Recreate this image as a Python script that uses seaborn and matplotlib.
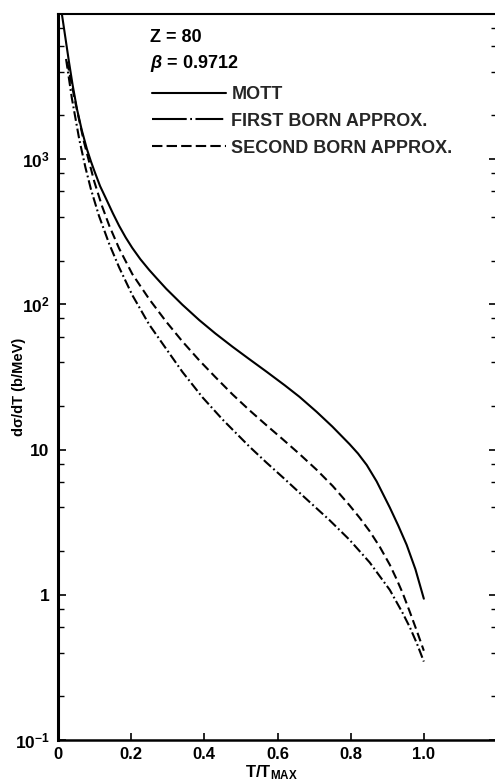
import matplotlib
matplotlib.use("Agg")
import numpy as np
import pandas as pd
import seaborn as sns
import matplotlib.pyplot as plt
from matplotlib.lines import Line2D
from matplotlib.ticker import FixedLocator, FixedFormatter, NullFormatter

# Electron-electron scattering cross section vs. fractional energy transfer
mott_t = [0.010, 0.020, 0.030, 0.040, 0.052, 0.065, 0.079, 0.090, 0.100, 0.115,
          0.132, 0.150, 0.167, 0.185, 0.203, 0.225, 0.249, 0.270, 0.296, 0.340,
          0.386, 0.430, 0.477, 0.520, 0.570, 0.620, 0.660, 0.707, 0.750, 0.797,
          0.820, 0.844, 0.871, 0.907, 0.930, 0.953, 0.977, 1.000]
mott_v = [10230, 6920, 4680, 3240, 2210, 1585, 1175, 966, 822, 653,
          530, 424, 348, 289, 245, 205, 173, 151, 128, 99.5,
          78.0, 63.1, 51.1, 42.5, 34.4, 27.7, 23.1, 18.2, 14.4, 10.9,
          9.40, 7.83, 6.04, 3.99, 3.00, 2.21, 1.50, 0.94]

born1_t = [0.022, 0.038, 0.058, 0.075, 0.090, 0.112, 0.140, 0.167, 0.203, 0.249,
           0.296, 0.340, 0.395, 0.450, 0.523, 0.570, 0.614, 0.668, 0.742, 0.797,
           0.852, 0.907, 0.942, 0.962, 0.981, 1.000]
born1_v = [4900, 2620, 1374, 877, 621, 407, 261, 180, 116, 72.8,
           49.3, 34.3, 22.9, 16.1, 10.5, 8.13, 6.46, 4.84, 3.27, 2.39,
           1.67, 1.08, 0.750, 0.596, 0.462, 0.347]

born2_t = [0.025, 0.049, 0.071, 0.099, 0.120, 0.140, 0.167, 0.203, 0.249, 0.296,
           0.340, 0.386, 0.430, 0.477, 0.523, 0.570, 0.614, 0.660, 0.707, 0.751,
           0.797, 0.825, 0.852, 0.880, 0.907, 0.925, 0.942, 0.962, 0.981, 1.000]
born2_v = [4700, 2355, 1315, 703, 478, 349, 243, 162, 109, 75.9,
           55.6, 41.2, 31.6, 24.0, 18.7, 14.7, 11.8, 9.33, 7.26, 5.61,
           4.13, 3.38, 2.74, 2.13, 1.61, 1.29, 1.03, 0.759, 0.562, 0.412]

labels = ["MOTT", "FIRST BORN APPROX.", "SECOND BORN APPROX."]

x_ticks = [0, 0.2, 0.4, 0.6, 0.8, 1.0]
x_ticklabels = ["0", "0.2", "0.4", "0.6", "0.8", "1.0"]
y_ticks = [0.1, 1, 10, 100, 1000, 10000]
y_ticklabels = ["10$^{-1}$", "1", "10", "10$^{2}$", "10$^{3}$", ""]

sns.set_theme(style="white")
plt.rcParams["font.family"] = ["Liberation Sans", "DejaVu Sans"]
plt.rcParams["font.weight"] = "bold"
plt.rcParams["mathtext.fontset"] = "custom"
plt.rcParams["mathtext.rm"] = "Liberation Sans:bold"
plt.rcParams["mathtext.it"] = "Liberation Sans:bold:italic"
plt.rcParams["mathtext.bf"] = "Liberation Sans:bold"
plt.rcParams["mathtext.default"] = "rm"
plt.rcParams["lines.scale_dashes"] = False

df = pd.concat([
    pd.DataFrame({"t": mott_t, "dsdt": mott_v, "curve": labels[0]}),
    pd.DataFrame({"t": born1_t, "dsdt": born1_v, "curve": labels[1]}),
    pd.DataFrame({"t": born2_t, "dsdt": born2_v, "curve": labels[2]}),
], ignore_index=True)

curve_dashes = {labels[0]: "", labels[1]: (7, 2.2, 1.3, 2.2), labels[2]: (6.5, 3.2)}

fig = plt.figure(figsize=(4.95, 7.84), dpi=100)
ax = fig.add_axes([58 / 495, 44 / 784, 439 / 495, 726 / 784])

sns.lineplot(data=df, x="t", y="dsdt", style="curve", dashes=curve_dashes,
             color="black", linewidth=1.5, sort=False, estimator=None,
             legend=False, ax=ax)

ax.set_yscale("log")
ax.set_xlim(0, 1.2)
ax.set_ylim(0.1, 1e4)

ax.xaxis.set_major_locator(FixedLocator(x_ticks))
ax.xaxis.set_major_formatter(FixedFormatter(x_ticklabels))
ax.yaxis.set_major_locator(FixedLocator(y_ticks))
ax.yaxis.set_major_formatter(FixedFormatter(y_ticklabels))
minor = [m * 10.0 ** e for e in range(-1, 4) for m in (2, 4, 6, 8)]
ax.yaxis.set_minor_locator(FixedLocator(minor))
ax.yaxis.set_minor_formatter(NullFormatter())

ax.tick_params(axis="y", which="major", direction="in", left=True, right=True,
               length=6, width=1.2, color="black", labelsize=12.5, pad=6)
ax.tick_params(axis="y", which="minor", direction="in", left=True, right=True,
               length=4, width=1.0, color="black")
ax.tick_params(axis="x", which="major", direction="in", bottom=True, top=False,
               length=5, width=1.2, color="black", labelsize=12, pad=5)
for lab in ax.get_xticklabels() + ax.get_yticklabels():
    lab.set_fontweight("bold")
    lab.set_color("black")

ax.spines["right"].set_visible(False)
ax.spines["left"].set_linewidth(2.2)
ax.spines["bottom"].set_linewidth(1.8)
ax.spines["top"].set_linewidth(1.5)
for s in ("left", "bottom", "top"):
    ax.spines[s].set_color("black")

ax.set_xlabel(r"T/T$_{\mathrm{MAX}}$", fontsize=12, fontweight="bold", color="black")
ax.xaxis.set_label_coords(0.487, -0.032)
ax.set_ylabel("dσ/dT (b/MeV)", fontsize=10.5, fontweight="bold", color="black")
ax.yaxis.set_label_coords(-0.072, 0.486)

ax.text(0.21, 0.967, "Z = 80", transform=ax.transAxes, va="center", ha="left",
        fontsize=13, fontweight="bold", color="black")
ax.text(0.21, 0.9325, r"$\mathit{\beta}$ = 0.9712", transform=ax.transAxes,
        va="center", ha="left", fontsize=13, fontweight="bold", color="black")

handles = [
    Line2D([], [], color="black", lw=1.5),
    Line2D([], [], color="black", lw=1.5, dashes=(25, 2.5, 1.3, 2.5, 20, 4)),
    Line2D([], [], color="black", lw=1.5, dashes=(7.5, 3)),
]
ax.legend(handles, labels, loc="upper left", bbox_to_anchor=(0.214, 0.901),
          frameon=False, borderpad=0, borderaxespad=0, handlelength=4.1,
          handletextpad=0.3, labelspacing=0.55,
          prop={"size": 13, "weight": "bold"})

fig.savefig("out.png", dpi=100)
